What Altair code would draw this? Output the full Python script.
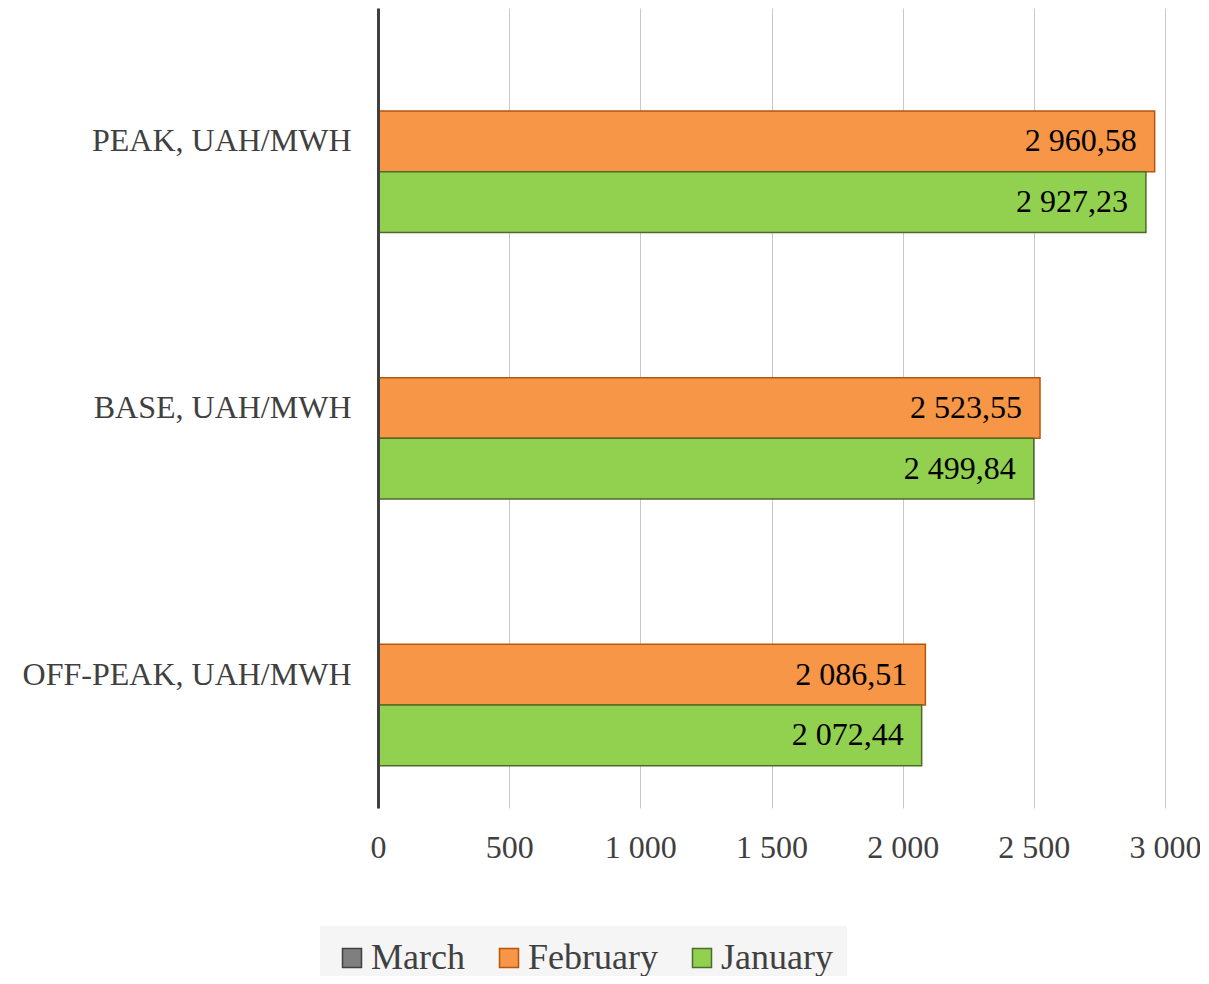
import altair as alt
import pandas as pd

categories = ["PEAK, UAH/MWH", "BASE, UAH/MWH", "OFF-PEAK, UAH/MWH"]
series_names = ["March", "February", "January"]
february = [2960.58, 2523.55, 2086.51]
january = [2927.23, 2499.84, 2072.44]
x_ticks = [0, 500, 1000, 1500, 2000, 2500, 3000]

fill_colors = ["#7f7f7f", "#f79646", "#92d050"]
stroke_colors = ["#404040", "#b5560b", "#4f6b28"]

def fmt(v):
    return f"{v:,.2f}".replace(",", " ").replace(".", ",")

rows = []
for name, vals in [("February", february), ("January", january)]:
    for c, v in zip(categories, vals):
        rows.append({"category": c, "series": name, "value": v, "label": fmt(v)})
df = pd.DataFrame(rows)

FONT = "Liberation Serif"

y_enc = alt.Y(
    "category:N",
    sort=categories,
    scale=alt.Scale(paddingInner=0.317, paddingOuter=0.1585),
    axis=alt.Axis(
        title=None,
        ticks=False,
        tickSize=0,
        labelPadding=27,
        labelFont=FONT,
        labelFontSize=32,
        labelColor="#404040",
        domainColor="#404040",
        domainWidth=3,
        grid=False,
        zindex=1,
        labelLimit=500,
    ),
)
yoff = alt.YOffset(
    "series:N",
    scale=alt.Scale(domain=series_names, paddingInner=0, paddingOuter=0),
)
x_enc = alt.X(
    "value:Q",
    scale=alt.Scale(domain=[0, 3000], nice=False),
    axis=alt.Axis(
        title=None,
        values=x_ticks,
        domain=False,
        ticks=False,
        tickSize=0,
        labelPadding=24,
        labelFlush=False,
        labelOverlap=False,
        labelBound=False,
        labelFont=FONT,
        labelFontSize=32,
        labelColor="#404040",
        gridColor="#c8c8c8",
        gridWidth=1,
        labelExpr="replace(format(datum.value, ','), ',', ' ')",
    ),
)

legend = alt.Legend(
    title=None,
    orient="none",
    legendX=-58,
    legendY=918,
    direction="horizontal",
    symbolType="square",
    symbolSize=361,
    symbolStrokeWidth=1.5,
    labelFont=FONT,
    labelFontSize=36,
    labelColor="#404040",
    labelOffset=1,
    columnPadding=26,
    padding=14,
    fillColor="#f5f5f5",
)

bars = alt.Chart(df).mark_bar(strokeWidth=1.5).encode(
    y=y_enc,
    yOffset=yoff,
    x=x_enc,
    fill=alt.Fill("series:N", scale=alt.Scale(domain=series_names, range=fill_colors), legend=legend),
    stroke=alt.Stroke("series:N", scale=alt.Scale(domain=series_names, range=stroke_colors), legend=legend),
)

labels = alt.Chart(df).mark_text(
    align="right", baseline="middle", dx=-18, font=FONT, fontSize=32, color="#000000"
).encode(
    y=alt.Y("category:N", sort=categories),
    yOffset=alt.YOffset("series:N", scale=alt.Scale(domain=series_names)),
    x=alt.X("value:Q"),
    text="label:N",
)

chart = alt.layer(bars, labels).properties(
    width=787,
    height=800,
    autosize=alt.AutoSizeParams(type="none"),
    padding={"left": 370, "top": 0, "right": 35, "bottom": 168},
).configure(background="white").configure_view(stroke=None)

chart.save("out.html", embed_options={"renderer": "svg", "actions": False})
